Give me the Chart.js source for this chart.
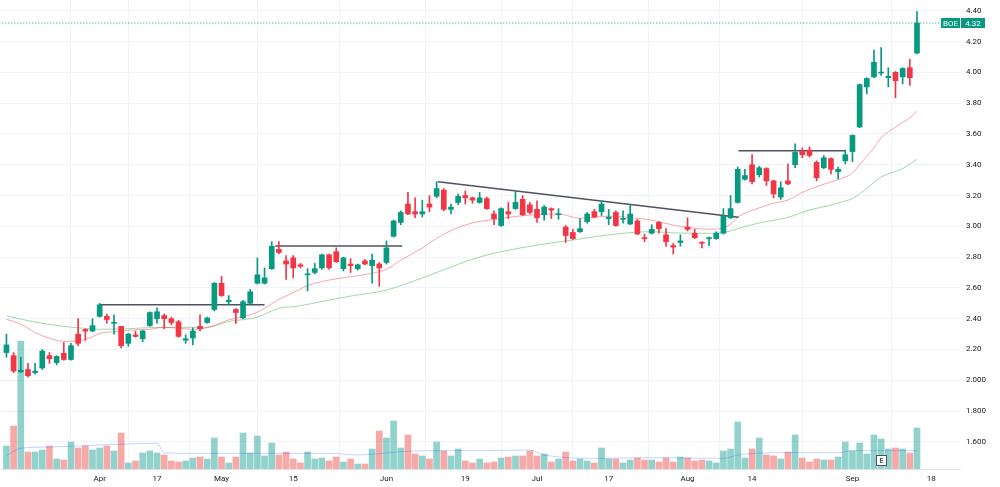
<!DOCTYPE html>
<html>
<head>
<meta charset="utf-8">
<script src="https://cdn.jsdelivr.net/npm/chart.js@4.4.0/dist/chart.umd.min.js"></script>
<style>
  html, body { margin: 0; padding: 0; background: #fff; }
  #wrap { width: 1000px; height: 487px; }
</style>
</head>
<body>
<div id="wrap"><canvas id="chart" width="1000" height="487"></canvas></div>
<script>
// daily candles, 15 Mar - 14 Sep (128 sessions)
const openP = [
  2.18, 2.16, 2.055, 2.07, 2.05, 2.08, 2.16, 2.115, 2.175, 2.135,
  2.30, 2.33, 2.32, 2.415, 2.415, 2.37, 2.35, 2.24, 2.295, 2.27,
  2.355, 2.40, 2.42, 2.40, 2.38, 2.26, 2.275, 2.35, 2.375, 2.46,
  2.63, 2.51, 2.46, 2.405, 2.50, 2.63, 2.63, 2.725, 2.85, 2.775,
  2.795, 2.75, 2.685, 2.70, 2.73, 2.815, 2.835, 2.725, 2.755, 2.725,
  2.775, 2.745, 2.755, 2.765, 2.935, 3.025, 3.145, 3.095, 3.08, 3.145,
  3.195, 3.235, 3.11, 3.155, 3.20, 3.185, 3.155, 3.18, 3.08, 3.005,
  3.095, 3.115, 3.175, 3.14, 3.11, 3.075, 3.115, 3.075, 2.995, 2.96,
  2.965, 3.03, 3.095, 3.095, 3.05, 3.09, 3.045, 3.015, 3.035, 2.925,
  2.955, 3.025, 2.945, 2.875, 2.895, 2.995, 2.955, 2.895, 2.92, 2.92,
  2.955, 3.055, 3.155, 3.305, 3.40, 3.335, 3.375, 3.295, 3.19, 3.295,
  3.40, 3.485, 3.495, 3.415, 3.38, 3.44, 3.355, 3.425, 3.485, 3.645,
  3.905, 3.97, 3.995, 3.965, 4.00, 3.97, 4.03, 4.125
];
const highP = [
  2.30, 2.18, 2.15, 2.11, 2.11, 2.20, 2.18, 2.16, 2.245, 2.24,
  2.40, 2.335, 2.40, 2.50, 2.43, 2.425, 2.35, 2.305, 2.32, 2.325,
  2.445, 2.47, 2.43, 2.41, 2.39, 2.295, 2.34, 2.425, 2.41, 2.635,
  2.675, 2.55, 2.465, 2.52, 2.59, 2.795, 2.73, 2.90, 2.90, 2.81,
  2.81, 2.76, 2.725, 2.76, 2.82, 2.82, 2.86, 2.80, 2.79, 2.755,
  2.785, 2.82, 2.765, 2.905, 3.04, 3.10, 3.22, 3.185, 3.17, 3.20,
  3.29, 3.245, 3.145, 3.21, 3.23, 3.19, 3.22, 3.19, 3.10, 3.12,
  3.155, 3.225, 3.20, 3.155, 3.165, 3.135, 3.12, 3.115, 3.005, 2.98,
  3.05, 3.09, 3.11, 3.165, 3.11, 3.10, 3.10, 3.14, 3.045, 2.95,
  3.01, 3.03, 2.985, 2.89, 2.945, 3.055, 2.98, 2.90, 2.93, 2.965,
  3.115, 3.20, 3.385, 3.37, 3.465, 3.39, 3.38, 3.30, 3.29, 3.405,
  3.535, 3.51, 3.515, 3.425, 3.46, 3.445, 3.385, 3.495, 3.595, 3.925,
  3.965, 4.145, 4.16, 4.03, 4.005, 4.03, 4.085, 4.395
];
const lowP = [
  2.15, 2.05, 2.05, 2.02, 2.04, 2.07, 2.11, 2.10, 2.13, 2.13,
  2.225, 2.26, 2.315, 2.41, 2.37, 2.30, 2.21, 2.22, 2.28, 2.25,
  2.35, 2.37, 2.335, 2.36, 2.28, 2.24, 2.23, 2.32, 2.37, 2.45,
  2.545, 2.49, 2.37, 2.40, 2.49, 2.625, 2.625, 2.72, 2.82, 2.655,
  2.665, 2.73, 2.58, 2.69, 2.72, 2.72, 2.765, 2.71, 2.70, 2.715,
  2.75, 2.63, 2.61, 2.755, 2.93, 3.01, 3.075, 3.055, 3.06, 3.095,
  3.185, 3.10, 3.08, 3.14, 3.145, 3.15, 3.15, 3.11, 3.01, 3.00,
  3.05, 3.11, 3.07, 3.08, 3.025, 3.04, 3.05, 3.045, 2.895, 2.915,
  2.96, 3.02, 3.055, 3.07, 3.01, 3.00, 3.02, 3.01, 2.945, 2.90,
  2.95, 2.955, 2.87, 2.82, 2.87, 2.97, 2.92, 2.86, 2.875, 2.915,
  2.95, 3.05, 3.15, 3.30, 3.275, 3.32, 3.265, 3.185, 3.175, 3.27,
  3.38, 3.445, 3.45, 3.295, 3.375, 3.34, 3.31, 3.405, 3.42, 3.64,
  3.86, 3.965, 3.98, 3.905, 3.835, 3.925, 3.915, 4.12
];
const closeP = [
  2.23, 2.06, 2.065, 2.03, 2.06, 2.19, 2.14, 2.155, 2.135, 2.225,
  2.24, 2.32, 2.355, 2.49, 2.395, 2.375, 2.225, 2.30, 2.285, 2.32,
  2.44, 2.445, 2.40, 2.375, 2.285, 2.27, 2.32, 2.335, 2.405, 2.63,
  2.55, 2.52, 2.44, 2.51, 2.575, 2.685, 2.665, 2.87, 2.83, 2.755,
  2.73, 2.74, 2.69, 2.725, 2.815, 2.73, 2.77, 2.795, 2.745, 2.75,
  2.755, 2.78, 2.73, 2.86, 3.035, 3.09, 3.08, 3.08, 3.095, 3.125,
  3.245, 3.11, 3.125, 3.195, 3.185, 3.17, 3.185, 3.115, 3.05, 3.115,
  3.08, 3.155, 3.075, 3.09, 3.055, 3.125, 3.105, 3.08, 2.94, 2.92,
  2.985, 3.08, 3.06, 3.145, 3.06, 3.005, 3.05, 3.08, 2.95, 2.92,
  2.98, 2.985, 2.90, 2.865, 2.905, 2.98, 2.925, 2.89, 2.925, 2.955,
  3.065, 3.115, 3.37, 3.33, 3.29, 3.38, 3.295, 3.21, 3.25, 3.275,
  3.48, 3.465, 3.46, 3.315, 3.445, 3.37, 3.37, 3.465, 3.59, 3.92,
  3.96, 4.065, 4.00, 3.975, 3.945, 4.025, 3.965, 4.32
];
// volume, millions of shares
const volume = [
  6.9, 12.9, 38.4, 5.1, 5.1, 5.7, 6.9, 3.0, 2.7, 8.1,
  6.3, 6.9, 5.7, 6.3, 6.9, 5.4, 10.8, 1.8, 2.4, 4.8,
  5.4, 4.8, 4.2, 2.4, 2.1, 2.4, 3.3, 3.6, 3.0, 9.3,
  3.6, 1.8, 3.6, 10.8, 4.8, 9.9, 3.9, 7.8, 4.2, 5.1,
  3.0, 1.8, 5.1, 3.0, 3.3, 2.4, 3.6, 2.1, 3.0, 1.5,
  1.5, 6.0, 11.4, 9.3, 14.4, 6.3, 10.2, 4.5, 3.9, 3.0,
  8.1, 5.4, 3.9, 6.0, 2.4, 1.8, 3.0, 1.8, 2.1, 3.3,
  3.6, 3.9, 3.9, 5.4, 3.9, 4.5, 2.1, 3.0, 5.1, 2.4,
  3.0, 2.4, 1.8, 6.3, 3.0, 3.0, 1.8, 2.7, 3.3, 2.7,
  2.7, 2.1, 3.3, 2.1, 3.6, 3.3, 2.4, 2.7, 2.4, 1.8,
  5.4, 6.0, 14.1, 3.3, 6.0, 9.3, 4.2, 3.9, 3.0, 5.1,
  10.2, 3.3, 2.1, 3.0, 2.7, 2.7, 3.6, 8.1, 5.4, 7.8,
  4.5, 10.2, 9.0, 6.0, 6.3, 6.0, 4.8, 12.3
];
// [session index, value]
const volumeMA = [
  [0, 4.0], [2, 6.2], [6, 6.6], [13, 7.2], [17, 7.5], [21, 7.7], [22, 4.8],
  [27, 4.7], [45, 4.7], [49, 4.2], [52, 4.6], [55, 5.2], [59, 5.5], [66, 5.5],
  [73, 5.7], [75, 4.2], [83, 3.2], [90, 3.4], [100, 3.2], [102, 4.2],
  [109, 4.9], [116, 4.9], [118, 5.5], [127, 5.5]
];
const emaFast = [
  [0, 2.396], [2, 2.365], [4, 2.31], [6, 2.273], [8, 2.253], [10, 2.255],
  [12, 2.283], [13, 2.305], [15, 2.316], [18, 2.328], [20, 2.331], [22, 2.344],
  [24, 2.338], [26, 2.331], [28, 2.342], [31, 2.392], [33, 2.413], [35, 2.442],
  [38, 2.525], [40, 2.569], [42, 2.615], [45, 2.651], [48, 2.672], [51, 2.695],
  [53, 2.721], [55, 2.78], [58, 2.86], [60, 2.922], [62, 2.972], [65, 3.022],
  [68, 3.045], [70, 3.058], [73, 3.073], [77, 3.08], [80, 3.052], [84, 3.066],
  [88, 3.052], [90, 3.04], [93, 3.008], [95, 2.993], [98, 2.981], [100, 2.99],
  [101, 3.015], [102, 3.06], [105, 3.12], [107, 3.15], [109, 3.17], [111, 3.22],
  [113, 3.257], [115, 3.288], [117, 3.32], [118, 3.345], [119, 3.40], [120, 3.455],
  [121, 3.51], [122, 3.575], [124, 3.645], [126, 3.705], [127, 3.749]
];
const emaSlow = [
  [0, 2.418], [4, 2.378], [8, 2.35], [11, 2.337], [13, 2.331], [16, 2.333],
  [20, 2.342], [24, 2.344], [28, 2.344], [31, 2.381], [35, 2.41], [38, 2.468],
  [40, 2.478], [42, 2.493], [45, 2.521], [48, 2.547], [53, 2.586], [58, 2.665],
  [60, 2.70], [62, 2.735], [64, 2.77], [66, 2.80], [68, 2.825], [70, 2.845],
  [75, 2.885], [79, 2.911], [85, 2.95], [90, 2.965], [93, 2.957], [98, 2.955],
  [100, 2.959], [102, 2.985], [105, 3.022], [109, 3.058], [112, 3.106],
  [115, 3.137], [117, 3.165], [118, 3.18], [120, 3.247], [122, 3.32],
  [125, 3.375], [127, 3.435]
];
// drawn trend lines: [x1, price1, x2, price2]
const trendLines = [
  [13, 2.49, 36, 2.49],
  [37.5, 2.872, 55.2, 2.872],
  [60.2, 3.29, 102.1, 3.058],
  [102.1, 3.49, 117.1, 3.49]
];
const dateTickIdx = [13, 21, 30, 40, 53, 64, 74, 84, 95, 104, 118, 129];
const dateTickLabels = ["Apr", "17", "May", "15", "Jun", "19", "Jul", "17", "Aug", "14", "Sep", "18"];
const priceTicks = [1.6, 1.8, 2.0, 2.2, 2.4, 2.6, 2.8, 3.0, 3.2, 3.4, 3.6, 3.8, 4.0, 4.2, 4.4];
const symbol = "BOE";
const earningsIdx = 122;

const UP = '#089981';
const DOWN = '#f23645';
const UP_VOL = 'rgba(38,166,154,0.5)';
const DOWN_VOL = 'rgba(239,83,80,0.5)';
const FONT = 'Roboto, "Liberation Sans", sans-serif';
const TEXT = '#131722';

const isUp = closeP.map((c, i) => c >= openP[i]);
const candleColors = isUp.map(u => u ? UP : DOWN);
const volColors = isUp.map(u => u ? UP_VOL : DOWN_VOL);
const last = closeP.length - 1;
const lastPrice = closeP[last];

function pts(arr) {
  return arr.map(([x, y]) => ({ x, y }));
}

const datasets = [
  {
    type: 'bar', label: 'Volume', yAxisID: 'yVol', order: 10, grouped: false,
    data: volume.map((v, i) => ({ x: i, y: v })),
    backgroundColor: volColors, barThickness: 6
  },
  {
    type: 'line', label: 'Vol MA', yAxisID: 'yVol', order: 9,
    data: pts(volumeMA), borderColor: 'rgba(41,98,255,0.28)', borderWidth: 1,
    pointRadius: 0, cubicInterpolationMode: 'monotone'
  },
  {
    type: 'line', label: 'EMA slow', yAxisID: 'y', order: 6,
    data: pts(emaSlow), borderColor: 'rgba(76,175,80,0.5)', borderWidth: 1,
    pointRadius: 0, cubicInterpolationMode: 'monotone'
  },
  {
    type: 'line', label: 'EMA fast', yAxisID: 'y', order: 5,
    data: pts(emaFast), borderColor: 'rgba(242,54,69,0.45)', borderWidth: 1,
    pointRadius: 0, cubicInterpolationMode: 'monotone'
  },
  {
    type: 'line', label: 'Last', yAxisID: 'y', order: 4,
    data: [{ x: -1, y: lastPrice }, { x: 130.2, y: lastPrice }],
    borderColor: candleColors[last], borderWidth: 1, borderDash: [1, 2], pointRadius: 0
  }
];

trendLines.forEach(([x1, y1, x2, y2]) => {
  datasets.push({
    type: 'line', label: 'trend', yAxisID: 'y', order: 3,
    data: [{ x: x1, y: y1 }, { x: x2, y: y2 }],
    borderColor: '#50535e', borderWidth: 1.5, pointRadius: 0
  });
});

datasets.push(
  {
    type: 'bar', label: 'Wick', yAxisID: 'y', order: 2, grouped: false,
    data: lowP.map((l, i) => ({ x: i, y: [l, highP[i]] })),
    backgroundColor: candleColors, barThickness: 1
  },
  {
    type: 'bar', label: 'Body', yAxisID: 'y', order: 1, grouped: false,
    data: openP.map((o, i) => ({ x: i, y: [o, closeP[i]] })),
    backgroundColor: candleColors, barThickness: 5, minBarLength: 1
  }
);

const overlay = {
  id: 'overlay',
  afterDraw(chart) {
    const { ctx, chartArea, scales } = chart;
    const py = Math.round(scales.y.getPixelForValue(lastPrice));
    ctx.save();
    ctx.font = '8px ' + FONT;
    ctx.textBaseline = 'middle';
    ctx.textAlign = 'center';

    // symbol + last price tags
    ctx.fillStyle = candleColors[last];
    ctx.fillRect(chartArea.right - 19, py - 5, 19, 10);
    ctx.fillRect(chartArea.right + 1, py - 5, 24, 10);
    ctx.fillStyle = '#fff';
    ctx.fillText(symbol, chartArea.right - 9.5, py + 0.5);
    ctx.fillText(lastPrice.toFixed(2), chartArea.right + 13, py + 0.5);

    // earnings marker
    const ex = Math.round(scales.x.getPixelForValue(earningsIdx));
    const ey = chartArea.bottom - 9;
    ctx.fillStyle = '#fff';
    ctx.strokeStyle = '#50535e';
    ctx.lineWidth = 1;
    ctx.fillRect(ex - 5, ey - 5, 10, 10);
    ctx.strokeRect(ex - 4.5, ey - 4.5, 10, 10);
    ctx.fillStyle = '#50535e';
    ctx.font = 'bold 7px ' + FONT;
    ctx.fillText('E', ex + 0.5, ey + 1);
    ctx.restore();
  }
};

new Chart(document.getElementById('chart'), {
  type: 'bar',
  data: { datasets },
  plugins: [overlay],
  options: {
    responsive: false,
    devicePixelRatio: 1,
    animation: false,
    layout: { padding: 0 },
    plugins: { legend: { display: false }, tooltip: { enabled: false } },
    scales: {
      x: {
        type: 'linear', min: -0.9, max: 133, offset: false,
        grid: { color: '#f0f3fa', drawTicks: false },
        border: { color: '#e0e3eb' },
        ticks: {
          autoSkip: false, maxRotation: 0, padding: 5, color: TEXT,
          font: { family: FONT, size: 8 },
          callback: v => {
            const k = dateTickIdx.indexOf(v);
            return k >= 0 ? dateTickLabels[k] : '';
          }
        },
        afterBuildTicks: s => { s.ticks = dateTickIdx.map(v => ({ value: v })); },
        afterFit: s => { s.height = 18; s.paddingLeft = 0; s.paddingRight = 0; }
      },
      y: {
        type: 'linear', position: 'right', min: 1.424, max: 4.4695,
        grid: { color: '#f0f3fa', drawTicks: false },
        border: { display: false },
        ticks: {
          padding: 6, color: TEXT,
          font: { family: FONT, size: 8 },
          callback: v => v <= 2.0001 ? v.toFixed(3) : v.toFixed(2)
        },
        afterBuildTicks: s => { s.ticks = priceTicks.map(v => ({ value: v })); },
        afterFit: s => { s.width = 40; s.paddingTop = 0; s.paddingBottom = 0; }
      },
      yVol: { type: 'linear', display: false, min: 0, max: 140.7 }
    }
  }
});
</script>
</body>
</html>
